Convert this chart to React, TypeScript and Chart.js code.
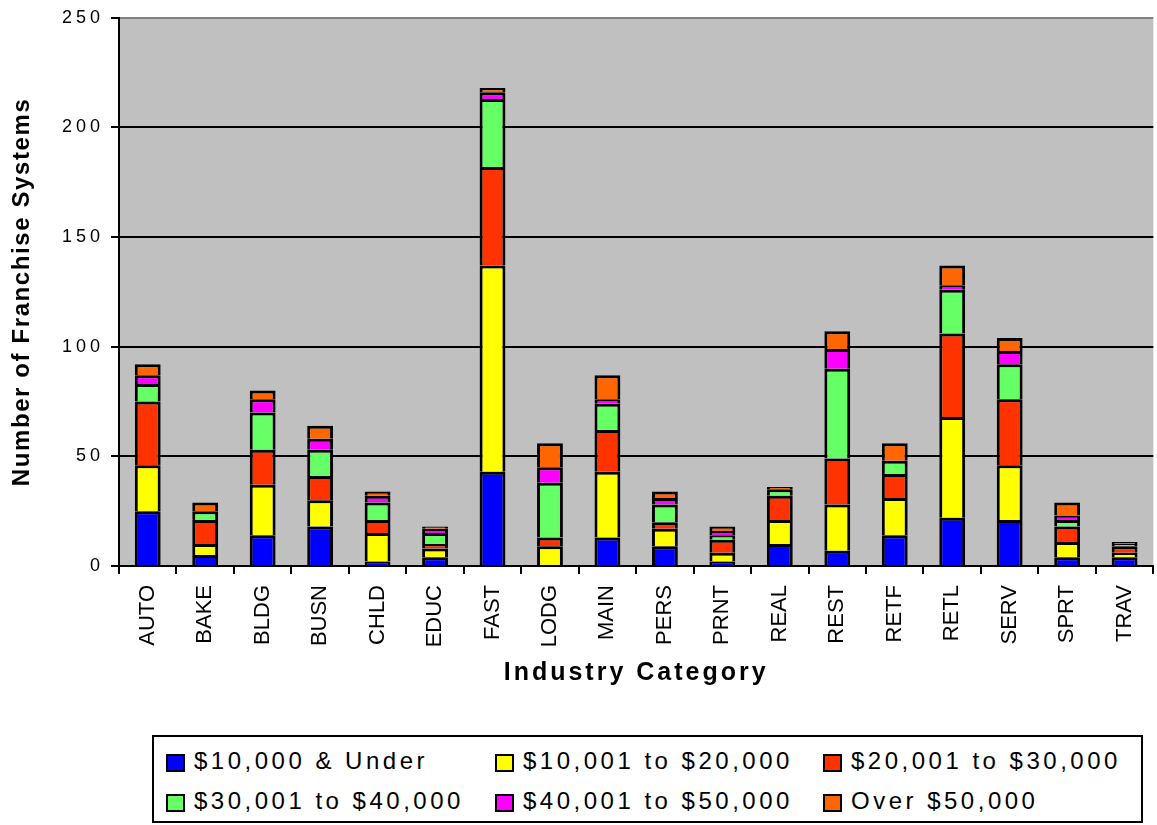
import React, { useEffect, useRef } from "react";
import { Chart, registerables } from "chart.js";

Chart.register(...registerables);

const categories = ["AUTO", "BAKE", "BLDG", "BUSN", "CHLD", "EDUC", "FAST", "LODG", "MAIN", "PERS", "PRNT", "REAL", "REST", "RETF", "RETL", "SERV", "SPRT", "TRAV"];

const seriesLabels = ["$10,000 & Under", "$10,001 to $20,000", "$20,001 to $30,000", "$30,001 to $40,000", "$40,001 to $50,000", "Over $50,000"];
const seriesColors = ["#0000FF", "#FFFF00", "#FF3300", "#66FF66", "#FF00FF", "#FF6600"];

const under10k = [25, 5, 14, 18, 2, 4, 43, 0, 13, 9, 2, 10, 7, 14, 22, 21, 4, 4];
const from10to20k = [21, 5, 23, 12, 13, 4, 94, 9, 30, 8, 4, 11, 21, 17, 46, 25, 7, 2];
const from20to30k = [29, 11, 16, 11, 6, 2, 45, 4, 19, 3, 6, 11, 21, 11, 38, 30, 7, 3];
const from30to40k = [8, 4, 17, 12, 8, 5, 31, 25, 12, 8, 2, 3, 41, 6, 20, 16, 3, 1];
const from40to50k = [4, 0, 6, 5, 3, 2, 3, 7, 2, 3, 2, 0, 9, 0, 2, 6, 2, 0];
const over50k = [5, 4, 4, 6, 2, 1, 2, 11, 11, 3, 2, 1, 8, 8, 9, 6, 6, 1];

const seriesValues = [under10k, from10to20k, from20to30k, from30to40k, from40to50k, over50k];

const yTicks = [0, 50, 100, 150, 200, 250];

const FONT = "'Liberation Sans', Arial, Helvetica, sans-serif";

const plotBg = {
  id: "plotBg",
  beforeDraw(chart: any) {
    const { ctx, chartArea } = chart;
    ctx.save();
    ctx.fillStyle = "#C0C0C0";
    ctx.fillRect(chartArea.left, chartArea.top, chartArea.right - chartArea.left, chartArea.bottom - chartArea.top);
    ctx.restore();
  },
};

const spacing = {
  id: "spacing",
  afterLayout(chart: any) {
    const wrap = (scale: any, method: string, sp: string) => {
      const flag = "__wrapped_" + method;
      if (!scale || scale[flag]) return;
      const orig = scale[method].bind(scale);
      scale[method] = (...args: any[]) => {
        const ctx = chart.ctx as any;
        const prev = ctx.letterSpacing;
        ctx.letterSpacing = sp;
        orig(...args);
        ctx.letterSpacing = prev || "0px";
      };
      scale[flag] = true;
    };
    wrap(chart.scales.y, "drawLabels", "4px");
    wrap(chart.scales.y, "drawTitle", "1.6px");
    wrap(chart.scales.x, "drawTitle", "3px");
  },
};

export default function App() {
  const canvasRef = useRef<HTMLCanvasElement | null>(null);

  useEffect(() => {
    if (!canvasRef.current) return;
    const chart = new Chart(canvasRef.current, {
      type: "bar",
      data: {
        labels: categories,
        datasets: seriesLabels.map((label, i) => ({
          label,
          data: seriesValues[i],
          backgroundColor: seriesColors[i],
          borderColor: "#000000",
          borderWidth: 3,
          barPercentage: 0.45,
          categoryPercentage: 1,
        })),
      },
      options: {
        responsive: false,
        animation: false,
        layout: { padding: { top: 16, left: 0, right: 0, bottom: 0 } },
        plugins: {
          legend: { display: false },
          tooltip: { enabled: false },
        },
        scales: {
          x: {
            stacked: true,
            afterFit(scale: any) {
              scale.height = 154;
            },
            grid: {
              display: true,
              drawOnChartArea: false,
              drawTicks: true,
              tickLength: 8,
              color: "#000000",
              lineWidth: 2,
            },
            border: { display: true, color: "#000000", width: 2 },
            ticks: {
              autoSkip: false,
              maxRotation: 90,
              minRotation: 90,
              padding: 11,
              color: "#000000",
              font: { family: FONT, size: 22 },
            },
            title: {
              display: true,
              text: "Industry Category",
              color: "#000000",
              font: { family: FONT, size: 25, weight: "bold" },
              padding: { top: 0, bottom: 32 },
            },
          },
          y: {
            stacked: true,
            min: 0,
            max: 250,
            afterFit(scale: any) {
              scale.width = 119;
            },
            afterBuildTicks(scale: any) {
              scale.ticks = yTicks.map((v) => ({ value: v }));
            },
            grid: {
              color: (ctx: any) => (ctx.tick && ctx.tick.value === 250 ? "#808080" : "#000000"),
              tickColor: "#000000",
              lineWidth: 2,
              tickLength: 8,
              drawTicks: true,
            },
            border: { display: true, color: "#000000", width: 2 },
            ticks: {
              padding: 7,
              color: "#000000",
              font: { family: FONT, size: 18 },
            },
            title: {
              display: true,
              text: "Number of Franchise Systems",
              color: "#000000",
              font: { family: FONT, size: 24, weight: "bold" },
              padding: { top: 8, bottom: 0 },
            },
          },
        },
      },
      plugins: [plotBg, spacing],
    });
    return () => chart.destroy();
  }, []);

  const colX = [14, 343, 671];
  const rowY = [26, 66];

  return (
    <div style={{ position: "absolute", left: 0, top: 0, width: 1157, height: 825, overflow: "hidden", background: "#fff" }}>
      <canvas ref={canvasRef} width={1162} height={720} style={{ position: "absolute", left: 0, top: 0, width: 1162, height: 720 }} />
      <div
        style={{
          position: "absolute",
          left: 152,
          top: 735,
          width: 991,
          height: 88,
          border: "2px solid #000",
          boxSizing: "border-box",
          fontFamily: FONT,
        }}
      >
        {seriesLabels.map((label, i) => {
          const col = i % 3;
          const row = Math.floor(i / 3);
          return (
            <div
              key={label}
              style={{
                position: "absolute",
                left: colX[col] - 2,
                top: rowY[row] - 2 - 14,
                height: 28,
                display: "flex",
                alignItems: "center",
                whiteSpace: "nowrap",
              }}
            >
              <span
                style={{
                  display: "inline-block",
                  width: 19,
                  height: 18,
                  boxSizing: "border-box",
                  border: "2px solid #000",
                  background: seriesColors[i],
                  marginRight: 9,
                  marginTop: 3,
                }}
              />
              <span style={{ fontSize: 24, letterSpacing: "3.5px", color: "#000", lineHeight: "28px" }}>{label}</span>
            </div>
          );
        })}
      </div>
    </div>
  );
}
